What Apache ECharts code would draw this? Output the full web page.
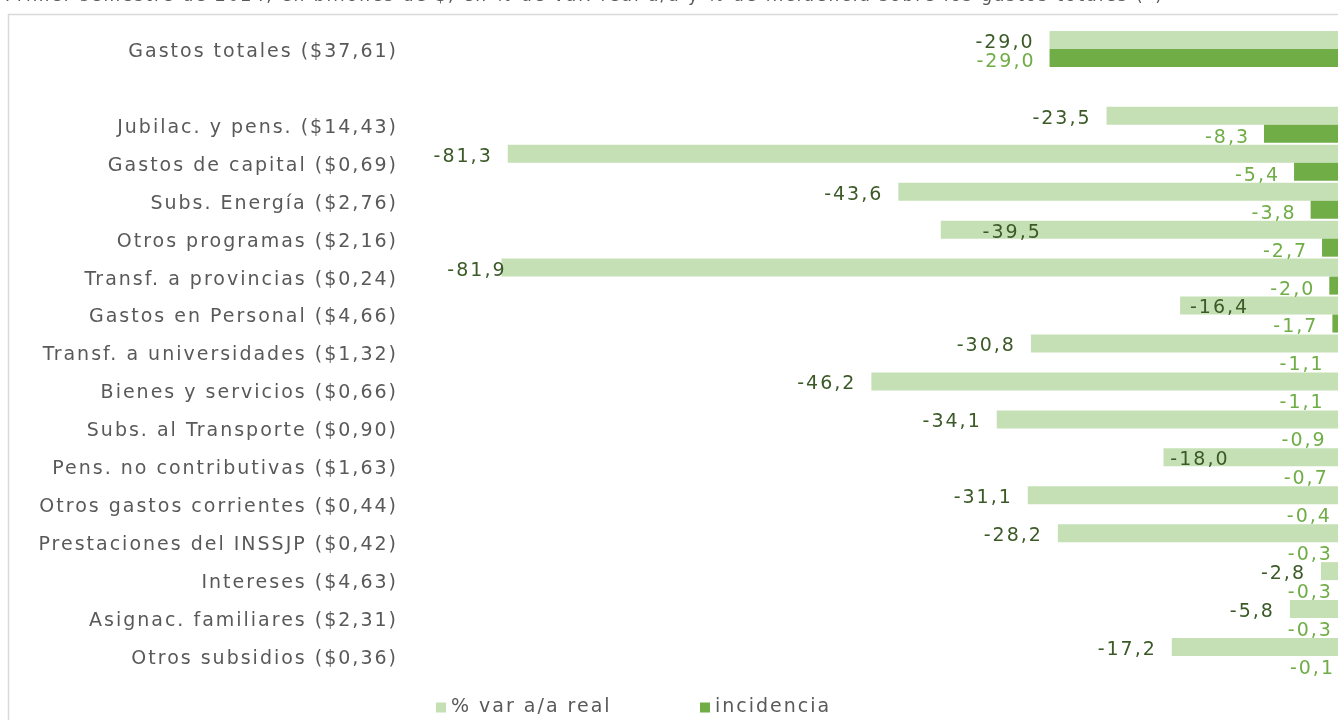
<!DOCTYPE html>
<html lang="es">
<head>
<meta charset="UTF-8">
<title>Gastos primer semestre 2024</title>
<script src="https://cdn.jsdelivr.net/npm/echarts@6.0.0/dist/echarts.min.js"></script>
<style>
  html, body { margin: 0; padding: 0; background: #fff; overflow: hidden; }
  /* el cero del eje queda un poco fuera de la ventana, como en el original */
  #main { width: 1350px; height: 720px; }
</style>
</head>
<body>
<div id="main"></div>
<script>
// rubros (la fila vacia es el hueco bajo el total)
var categorias = [
    'Gastos totales ($37,61)',
    '',
    'Jubilac. y pens. ($14,43)',
    'Gastos de capital ($0,69)',
    'Subs. Energía ($2,76)',
    'Otros programas ($2,16)',
    'Transf. a provincias ($0,24)',
    'Gastos en Personal ($4,66)',
    'Transf. a universidades ($1,32)',
    'Bienes y servicios ($0,66)',
    'Subs. al Transporte ($0,90)',
    'Pens. no contributivas ($1,63)',
    'Otros gastos corrientes ($0,44)',
    'Prestaciones del INSSJP ($0,42)',
    'Intereses ($4,63)',
    'Asignac. familiares ($2,31)',
    'Otros subsidios ($0,36)'
];
var varReal = [-29.0, null, -23.5, -81.3, -43.6, -39.5, -81.9, -16.4, -30.8, -46.2, -34.1, -18.0, -31.1, -28.2, -2.8, -5.8, -17.2];
var incidencia = [-29.0, null, -8.3, -5.4, -3.8, -2.7, -2.0, -1.7, -1.1, -1.1, -0.9, -0.7, -0.4, -0.3, -0.3, -0.3, -0.1];

var titulo = 'Primer semestre de 2024, en billones de $, en % de var. real a/a y % de incidencia sobre los gastos totales (*)';

var FUENTE = 'DejaVu Sans';
var GRIS = '#595959';

// la tipografia del original va espaciada: se imita con letterSpacing del canvas
var fillTextOrig = CanvasRenderingContext2D.prototype.fillText;
CanvasRenderingContext2D.prototype.fillText = function (t, x, y, w) {
    this.letterSpacing = '2px';
    return w === undefined ? fillTextOrig.call(this, t, x, y) : fillTextOrig.call(this, t, x, y, w);
};

// etiquetas que en el original estan corridas a mano
var corrimientos = { 5: [116, 3], 6: [20, 3], 7: [84, 3], 11: [81, 3] };

function fmt(v) {
    return v.toFixed(1).replace('.', ',');
}

var dataVar = varReal.map(function (v, i) {
    if (v === null) return null;
    var d = { value: v };
    if (corrimientos[i]) d.label = { offset: corrimientos[i] };
    return d;
});

var myChart = echarts.init(document.getElementById('main'));

var textoGris = { fontFamily: FUENTE, fontSize: 19, color: GRIS };

var option = {
    animation: false,
    title: {
        text: titulo,
        left: 0,
        top: -17,
        textStyle: { fontFamily: FUENTE, fontSize: 17, fontWeight: 'normal', color: GRIS }
    },
    graphic: [{
        type: 'rect',
        left: 6, top: 12,
        shape: { width: 1400, height: 800 },
        style: { fill: 'none', stroke: '#d9d9d9', lineWidth: 1.5 },
        silent: true
    }],
    legend: [
        {
            left: 431, top: 693,
            itemWidth: 10, itemHeight: 10,
            icon: 'rect',
            textStyle: textoGris,
            data: ['% var a/a real']
        },
        {
            left: 695, top: 693,
            itemWidth: 10, itemHeight: 10,
            icon: 'rect',
            textStyle: textoGris,
            data: ['incidencia']
        }
    ],
    grid: { left: 400, right: 0, top: 30, bottom: 45, containLabel: false },
    xAxis: {
        type: 'value',
        min: -91.7,
        max: 0,
        show: false
    },
    yAxis: {
        type: 'category',
        inverse: true,
        data: categorias,
        axisLine: { show: false },
        axisTick: { show: false },
        axisLabel: {
            margin: 2,
            verticalAlign: 'top',
            lineHeight: 6,
            fontFamily: FUENTE,
            fontSize: 19,
            color: GRIS
        }
    },
    series: [
        {
            name: '% var a/a real',
            type: 'bar',
            data: dataVar,
            barWidth: 18,
            barGap: '0%',
            itemStyle: { color: '#c5e0b4' },
            label: {
                show: true,
                position: 'left',
                distance: 15,
                offset: [0, 3],
                fontFamily: FUENTE,
                fontSize: 19,
                color: '#3b5a27',
                formatter: function (p) { return fmt(p.value); }
            }
        },
        {
            name: 'incidencia',
            type: 'bar',
            data: incidencia,
            barWidth: 18,
            barGap: '0%',
            itemStyle: { color: '#70ad47' },
            label: {
                show: true,
                position: 'left',
                distance: 14,
                offset: [0, 4],
                fontFamily: FUENTE,
                fontSize: 19,
                color: '#70ad47',
                formatter: function (p) { return fmt(p.value); }
            }
        }
    ]
};

myChart.setOption(option);
window.addEventListener('resize', function () {
    myChart.resize();
});
</script>
</body>
</html>
